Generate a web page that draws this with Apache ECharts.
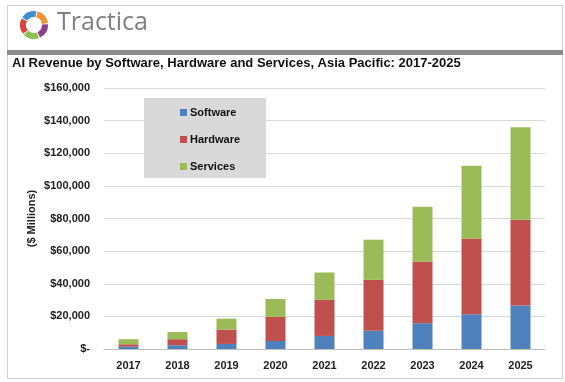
<!DOCTYPE html>
<html>
<head>
<meta charset="utf-8">
<script src="https://cdn.jsdelivr.net/npm/echarts@6/dist/echarts.min.js"></script>
<style>html,body{margin:0;padding:0;background:#fff}#c{width:565px;height:382px}</style>
</head>
<body>
<div id="c"></div>
<script>
var categories = ['2017','2018','2019','2020','2021','2022','2023','2024','2025'];
var software = [1400, 2300, 3100, 4900, 8000, 11200, 15800, 21300, 26600];
var hardware = [1500, 3700, 8800, 14800, 22100, 31200, 37800, 46500, 52600];
var services = [3100, 4400, 6700, 11000, 16800, 24600, 33600, 44600, 56700];
var seriesNames = ['Software', 'Hardware', 'Services'];
var colors = ['#4F81BD', '#C0504D', '#9BBB59'];

function fmt(v) {
  if (v === 0) return '$-';
  return '$' + String(v).replace(/\B(?=(\d{3})+(?!\d))/g, ',');
}

var chart = echarts.init(document.getElementById('c'), null, {renderer: 'canvas'});

var logoColors = ['#3d8fd1', '#f3922f', '#8a3f8f', '#8cc152', '#d8423c'];
var logoStarts = [-150, -78, -6, 66, 138];
var logo = logoStarts.map(function (s, i) {
  return {
    type: 'sector',
    shape: { cx: 34, cy: 25, r: 14, r0: 8, startAngle: (s + 3) * Math.PI / 180, endAngle: (s + 70) * Math.PI / 180 },
    style: { fill: logoColors[i] },
    z: 10
  };
});

var option = {
  animation: false,
  backgroundColor: '#fff',
  color: colors,
  textStyle: { fontFamily: 'Liberation Sans, Arial, sans-serif' },
  graphic: [
    { type: 'rect', shape: { x: 7.5, y: 5.5, width: 555, height: 373 }, style: { fill: 'none', stroke: '#d0d0d0', lineWidth: 1 }, z: 0 },
    { type: 'rect', shape: { x: 7, y: 50, width: 556, height: 5 }, style: { fill: '#8c8c8c' }, z: 1 },
    { type: 'text', left: 57, top: 10, style: { text: 'Tractica', font: '25px "Open Sans", sans-serif', fill: '#7f7f7f' }, z: 10 },
    { type: 'text', left: 12, top: 57, style: { text: 'AI Revenue by Software, Hardware and Services, Asia Pacific: 2017-2025', font: 'bold 13px "Liberation Sans", Arial, sans-serif', fill: '#111' }, z: 10 },
    { type: 'rect', shape: { x: 144, y: 98, width: 122, height: 80 }, style: { fill: '#d9d9d9' }, z: 3 }
  ].concat(logo),
  legend: {
    orient: 'vertical',
    left: 175,
    top: 102,
    itemWidth: 7,
    itemHeight: 7,
    itemGap: 16,
    icon: 'rect',
    data: seriesNames,
    textStyle: { fontSize: 11, fontWeight: 'bold', color: '#111', padding: [0, 0, 0, -2] },
    z: 5
  },
  grid: { left: 104, right: 20, top: 88, bottom: 33 },
  xAxis: {
    type: 'category',
    data: categories,
    axisTick: { show: false },
    axisLine: { lineStyle: { color: '#bfbfbf' } },
    axisLabel: { fontSize: 11, fontWeight: 'bold', color: '#222', margin: 11 }
  },
  yAxis: {
    type: 'value',
    min: 0,
    max: 160000,
    interval: 20000,
    name: '($ Millions)',
    nameLocation: 'middle',
    nameRotate: 90,
    nameGap: 67,
    nameMoveOverlap: false,
    nameTextStyle: { fontSize: 11, fontWeight: 'bold', color: '#222' },
    axisLine: { show: false },
    axisTick: { show: false },
    axisLabel: { fontSize: 11, fontWeight: 'bold', color: '#222', margin: 14, formatter: fmt },
    splitLine: { lineStyle: { color: '#d9d9d9' } }
  },
  series: [
    { name: seriesNames[0], type: 'bar', stack: 'a', data: software, barWidth: 20 },
    { name: seriesNames[1], type: 'bar', stack: 'a', data: hardware, barWidth: 20 },
    { name: seriesNames[2], type: 'bar', stack: 'a', data: services, barWidth: 20 }
  ]
};
chart.setOption(option);
</script>
</body>
</html>
